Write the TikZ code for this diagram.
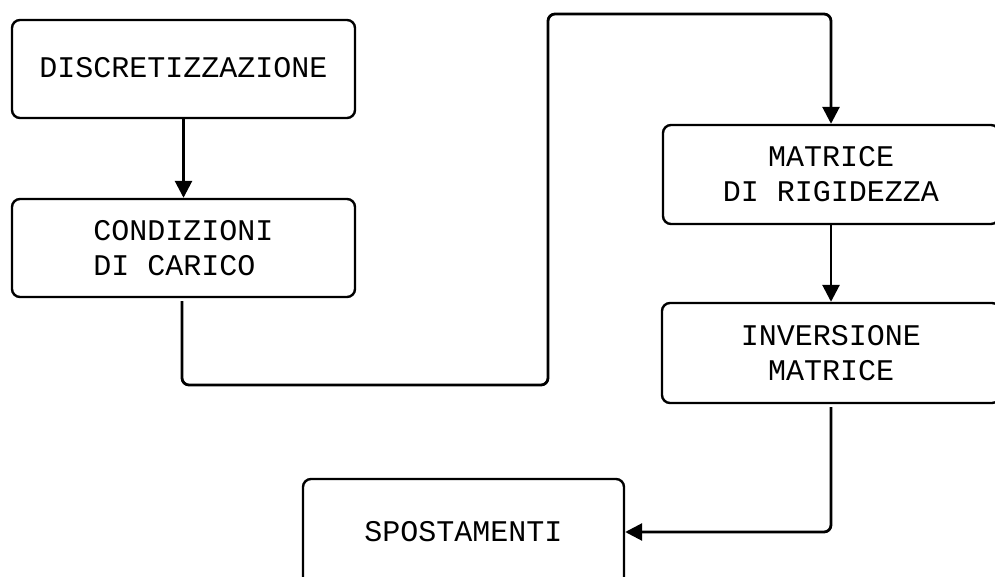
\documentclass[tikz,border=0pt]{standalone}
\usepackage{fontspec}
\setmonofont{Liberation Mono}
\usetikzlibrary{arrows.meta}
\tikzset{
  stepbox/.style={draw=black, line width=2.4pt, rounded corners=8pt, fill=white,
    font=\ttfamily\fontsize{30}{35}\selectfont, inner sep=0pt},
  flow/.style={line width=2.8pt, rounded corners=7pt,
    -{Triangle[width=17pt,length=17pt]}},
}
\begin{document}
\begin{tikzpicture}[x=1pt,y=-1pt]
\clip (0,0) rectangle (995,577);
\fill[white] (0,0) rectangle (995,577);
\node[stepbox, minimum width=343pt, minimum height=98pt] (d1) at (183.5,69) {\raisebox{3pt}{DISCRETIZZAZIONE}};
\node[stepbox, minimum width=343pt, minimum height=98pt, align=left] (d2) at (183.5,248) {CONDIZIONI\\DI CARICO};
\node[stepbox, minimum width=336pt, minimum height=99pt, align=center] (m) at (831,174.5) {MATRICE\\DI RIGIDEZZA};
\node[stepbox, minimum width=338pt, minimum height=100pt, align=center] (inv) at (831,353) {INVERSIONE\\MATRICE};
\node[stepbox, minimum width=321pt, minimum height=106pt] (sp) at (463.5,532) {SPOSTAMENTI};
\coordinate (c1) at (182,385);
\coordinate (c2) at (548,385);
\coordinate (c3) at (548,14);
\coordinate (c4) at (831,14);
\coordinate (c5) at (831,532);
\draw[flow] (d1.south) -- (d2.north);
\draw[flow] ([yshift=-3pt]d2.south -| c1) -- (c1) -- (c2) -- (c3) -- (c4) -- (m.north);
\draw[flow] (m.south) -- (inv.north);
\draw[flow] ([yshift=-3pt]inv.south) -- (c5) -- (sp.east);
\end{tikzpicture}
\end{document}
